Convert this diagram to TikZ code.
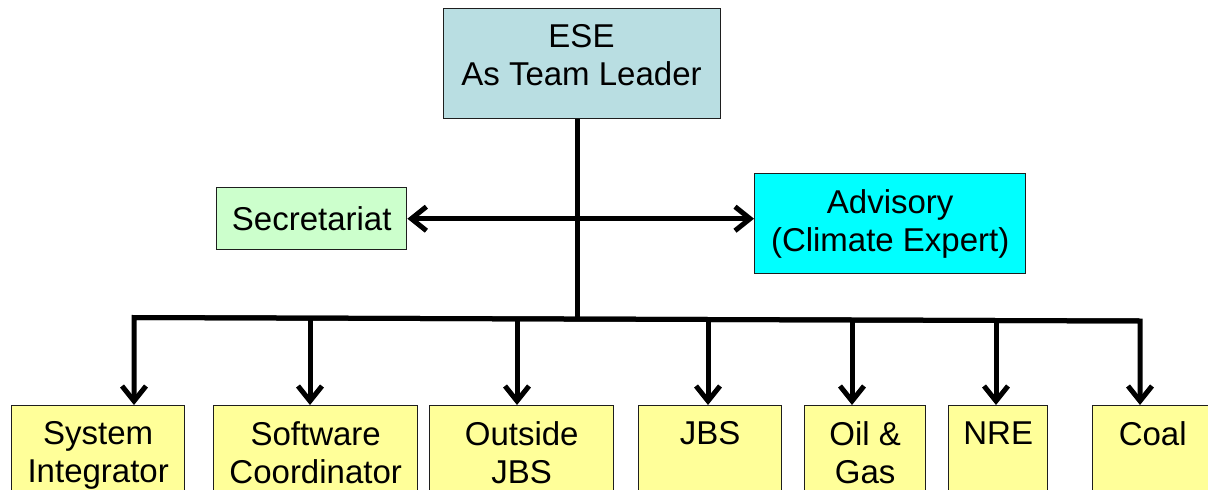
\documentclass[tikz,border=0pt]{standalone}
\usepackage{fontspec}
\setmainfont{Liberation Sans}
\usetikzlibrary{arrows.meta}
\definecolor{esefill}{RGB}{185,222,226}
\definecolor{secfill}{RGB}{204,255,204}
\definecolor{advfill}{RGB}{0,255,255}
\definecolor{unitfill}{RGB}{255,255,153}
\definecolor{edgecol}{RGB}{30,30,30}
\begin{document}
\begin{tikzpicture}[x=1pt,y=-1pt,
  box/.style={draw=edgecol, line width=1.4pt, rectangle, inner sep=0pt, anchor=north west},
  txt/.style={font=\fontsize{33}{38}\selectfont, align=center, inner sep=0pt},
  unit/.style={box, fill=unitfill, minimum height=120pt},
  utext/.style={txt, anchor=north},
  conn/.style={line width=5pt},
  arr/.style={conn, -{Straight Barb[length=15pt,width=24pt]}},
  darr/.style={conn, {Straight Barb[length=15pt,width=24pt]}-{Straight Barb[length=15pt,width=24pt]}}
]
\useasboundingbox (0,0) rectangle (1208,490);
\clip (0,0) rectangle (1208,490);

% top boxes
\node[box, fill=esefill, minimum width=277pt, minimum height=110pt] (ese) at (443,8) {};
\node[txt] (eset) at (581.5,55) {ESE\\As Team Leader};
\node[box, txt, fill=secfill, minimum width=190pt, minimum height=62pt] (sec) at (216,187) {Secretariat};
\node[box, txt, fill=advfill, minimum width=271pt, minimum height=100pt] (adv) at (754,173) {Advisory\\(Climate Expert)};

% bottom boxes
\node[unit, minimum width=173pt] (si) at (11,405) {};
\node[unit, minimum width=204pt] (sw) at (213,405) {};
\node[unit, minimum width=184pt] (ou) at (429,405) {};
\node[unit, minimum width=143pt] (jb) at (638,405) {};
\node[unit, minimum width=121pt] (og) at (804,405) {};
\node[unit, minimum width=99pt]  (nr) at (948,405) {};
\node[unit, minimum width=120pt] (co) at (1092,405) {};

\node[utext] (sit) at ([yshift=-16.5pt]si.north) {System\\Integrator};
\node[utext] (swt) at ([yshift=-16.5pt]sw.north) {Software\\Coordinator};
\node[utext] (out) at ([yshift=-16.5pt]ou.north) {Outside\\JBS};
\node[utext] (jbt) at ([yshift=-16.5pt]jb.north) {JBS};
\node[utext] (ogt) at ([yshift=-16.5pt]og.north) {Oil \&\\Gas};
\node[utext] (nrt) at ([yshift=-16.5pt]nr.north) {NRE};
\node[utext] (cot) at ([yshift=-16.5pt]co.north) {Coal};

% bus coordinates
\coordinate (d1) at (134,317.5);
\coordinate (d2) at (310,318.1);
\coordinate (d3) at (517,318.8);
\coordinate (d4) at (708,319.5);
\coordinate (d5) at (852,320.0);
\coordinate (d6) at (996,320.5);
\coordinate (d7) at (1140,321);
\coordinate (tr) at (577,319);

% connectors
\draw[conn] (tr |- ese.south) -- (tr);
\draw[darr] (sec.east) -- (adv.west |- sec.east);
\draw[arr] (d7) -- (d1) -- (d1 |- si.north);
\draw[arr] (d1) -- (d7) -- (d7 |- co.north);
\draw[arr] (d2) -- (d2 |- sw.north);
\draw[arr] (d3) -- (d3 |- ou.north);
\draw[arr] (d4) -- (d4 |- jb.north);
\draw[arr] (d5) -- (d5 |- og.north);
\draw[arr] (d6) -- (d6 |- nr.north);
\end{tikzpicture}
\end{document}
